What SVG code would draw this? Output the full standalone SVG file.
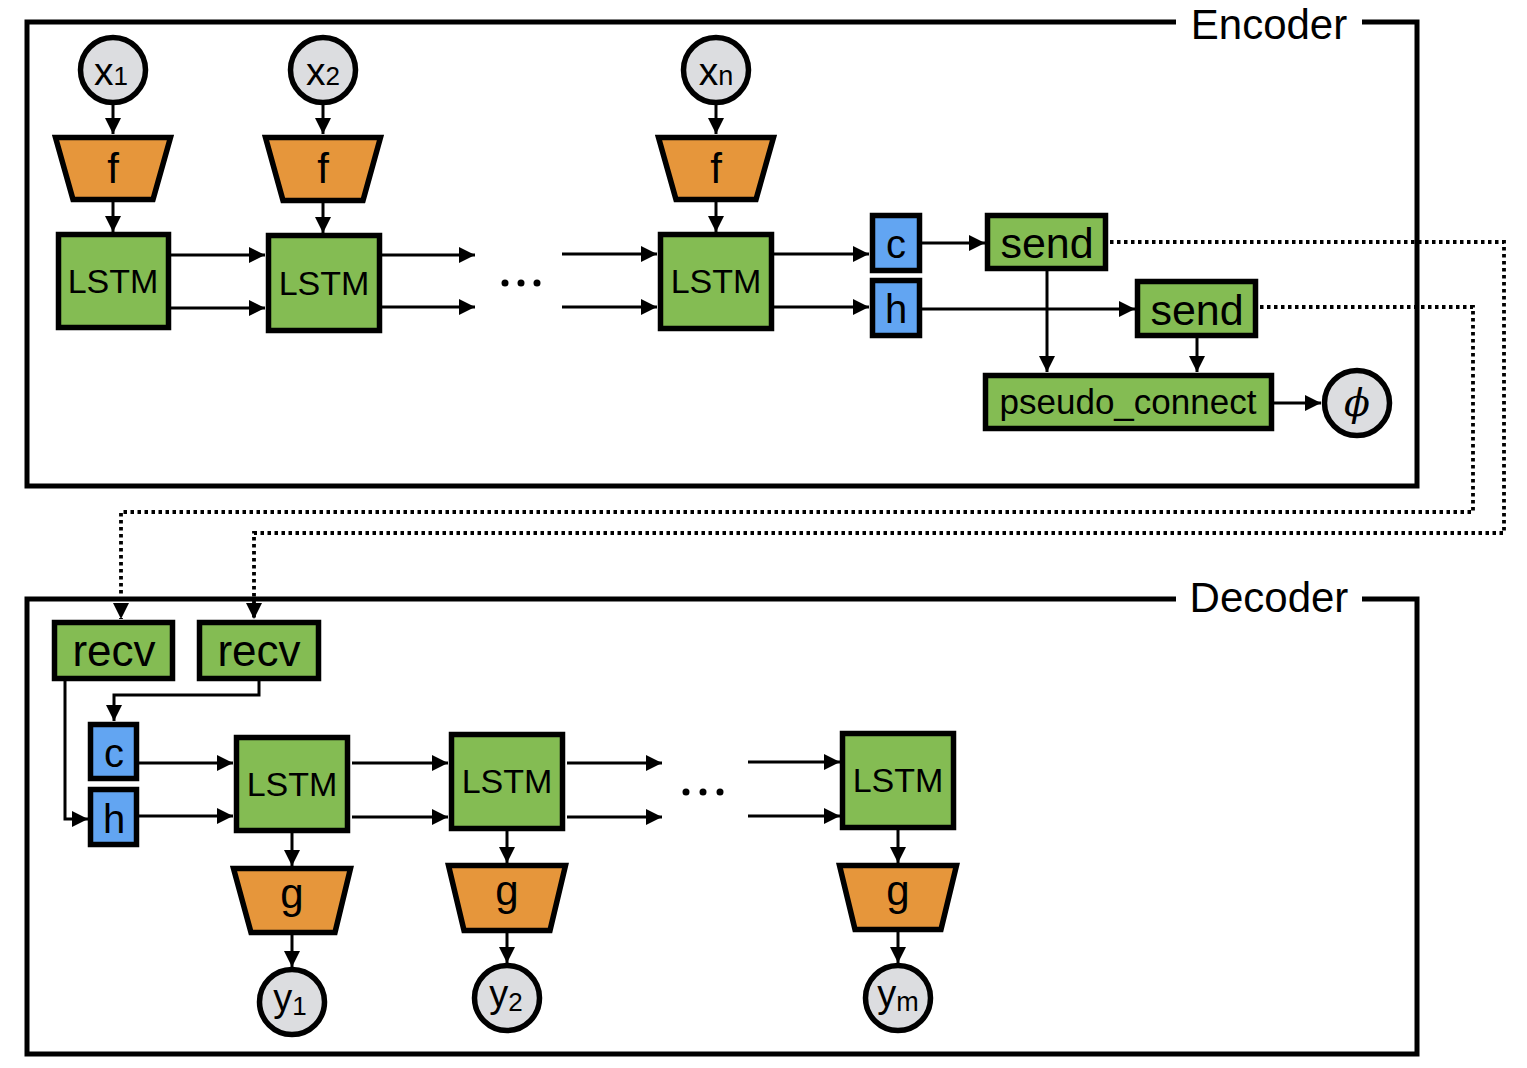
<svg xmlns="http://www.w3.org/2000/svg" width="1527" height="1068" viewBox="0 0 1527 1068">
<style>
.frame{fill:none;stroke:#000;stroke-width:5}
.node{stroke:#000;stroke-width:5.5}
.grn{fill:#84bc53}
.blu{fill:#62a5f2}
.org{fill:#e6963b}
.io{fill:#dcdde0}
.lbl{font-family:"Liberation Sans",Arial,sans-serif;fill:#000;text-anchor:middle}
.conn{fill:none;stroke:#000;stroke-width:3}
.dot{stroke-dasharray:3.5 3.5;stroke-width:3.8}
.ell{fill:#000}
</style>
<defs>
<marker id="ah" markerUnits="userSpaceOnUse" markerWidth="16" markerHeight="16" viewBox="0 0 16 16" refX="16" refY="8" orient="auto">
<path d="M0,0 L16,8 L0,16 z" fill="#000"/>
</marker>
</defs>
<rect width="1527" height="1068" fill="#fff"/>

<g id="encoder-frame">
<path class="frame" d="M1176,22 H27 V486 H1417 V22 H1362"/>
<text class="lbl" x="1269" y="39" font-size="42">Encoder</text>
</g>
<g id="decoder-frame">
<path class="frame" d="M1176,599 H27 V1054 H1417 V599 H1362"/>
<text class="lbl" x="1269" y="612" font-size="42">Decoder</text>
</g>

<g id="connectors">
<path class="conn" marker-end="url(#ah)" d="M113,104 V134"/>
<path class="conn" marker-end="url(#ah)" d="M113,202 V232"/>
<path class="conn" marker-end="url(#ah)" d="M323,104 V134"/>
<path class="conn" marker-end="url(#ah)" d="M323,203 V233"/>
<path class="conn" marker-end="url(#ah)" d="M716,104 V134"/>
<path class="conn" marker-end="url(#ah)" d="M716,202 V232"/>
<path class="conn" marker-end="url(#ah)" d="M171,255 H265"/>
<path class="conn" marker-end="url(#ah)" d="M171,308 H265"/>
<path class="conn" marker-end="url(#ah)" d="M382,255 H475"/>
<path class="conn" marker-end="url(#ah)" d="M382,307 H475"/>
<path class="conn" marker-end="url(#ah)" d="M562,254 H657"/>
<path class="conn" marker-end="url(#ah)" d="M562,307 H657"/>
<path class="conn" marker-end="url(#ah)" d="M774,254 H869"/>
<path class="conn" marker-end="url(#ah)" d="M774,307 H869"/>
<path class="conn" marker-end="url(#ah)" d="M922,243 H985"/>
<path class="conn" marker-end="url(#ah)" d="M922,309 H1135"/>
<path class="conn" marker-end="url(#ah)" d="M1047,271 V372"/>
<path class="conn" marker-end="url(#ah)" d="M1197,338 V372"/>
<path class="conn" marker-end="url(#ah)" d="M1274,403 H1321"/>
<path class="conn dot" marker-end="url(#ah)" d="M1110,242 H1504 V533 H254 V619"/>
<path class="conn dot" marker-end="url(#ah)" d="M1260,307 H1473 V512 H121 V619"/>
<path class="conn" marker-end="url(#ah)" d="M259,681 V695 H114 V721"/>
<path class="conn" marker-end="url(#ah)" d="M65,681 V819 H88"/>
<path class="conn" marker-end="url(#ah)" d="M139,763 H233"/>
<path class="conn" marker-end="url(#ah)" d="M139,816 H233"/>
<path class="conn" marker-end="url(#ah)" d="M352,763 H448"/>
<path class="conn" marker-end="url(#ah)" d="M352,817 H448"/>
<path class="conn" marker-end="url(#ah)" d="M567,763 H662"/>
<path class="conn" marker-end="url(#ah)" d="M567,817 H662"/>
<path class="conn" marker-end="url(#ah)" d="M748,762 H840"/>
<path class="conn" marker-end="url(#ah)" d="M748,816 H840"/>
<path class="conn" marker-end="url(#ah)" d="M292,833 V866"/>
<path class="conn" marker-end="url(#ah)" d="M507,831 V863"/>
<path class="conn" marker-end="url(#ah)" d="M898,830 V863"/>
<path class="conn" marker-end="url(#ah)" d="M292,935 V967"/>
<path class="conn" marker-end="url(#ah)" d="M507,933 V963"/>
<path class="conn" marker-end="url(#ah)" d="M898,932 V963"/>
</g>

<g id="x1"><circle class="node io" cx="113" cy="70" r="32.5"/><text class="lbl" x="111" y="85" font-size="39">x<tspan font-size="26">1</tspan></text></g>
<g id="x2"><circle class="node io" cx="323" cy="70" r="32.5"/><text class="lbl" x="323" y="85" font-size="39">x<tspan font-size="26">2</tspan></text></g>
<g id="xn"><circle class="node io" cx="716" cy="70" r="32.5"/><text class="lbl" x="716" y="85" font-size="39">x<tspan font-size="27">n</tspan></text></g>

<g id="f1"><polygon class="node org" points="55.5,137.5 170.5,137.5 153,199.5 73,199.5"/><text class="lbl" x="113" y="183" font-size="42">f</text></g>
<g id="f2"><polygon class="node org" points="265.5,137.5 380.5,137.5 363,200.5 283,200.5"/><text class="lbl" x="323" y="183" font-size="42">f</text></g>
<g id="fn"><polygon class="node org" points="658.5,137.5 773.5,137.5 756,199.5 676,199.5"/><text class="lbl" x="716" y="183" font-size="42">f</text></g>

<g id="enc-lstm1"><rect class="node grn" x="58.5" y="234.5" width="110" height="93"/><text class="lbl" x="113" y="293" font-size="34">LSTM</text></g>
<g id="enc-lstm2"><rect class="node grn" x="268.5" y="235.5" width="111" height="95"/><text class="lbl" x="324" y="295" font-size="34">LSTM</text></g>
<g id="enc-lstmn"><rect class="node grn" x="660.5" y="234.5" width="111" height="94"/><text class="lbl" x="716" y="293" font-size="34">LSTM</text></g>
<g id="enc-dots"><circle class="ell" cx="505" cy="283" r="3.5"/><circle class="ell" cx="521" cy="283" r="3.5"/><circle class="ell" cx="537" cy="283" r="3.5"/></g>

<g id="enc-c"><rect class="node blu" x="872.5" y="215.5" width="47" height="55"/><text class="lbl" x="896" y="258" font-size="40">c</text></g>
<g id="enc-h"><rect class="node blu" x="872.5" y="280.5" width="47" height="55"/><text class="lbl" x="896" y="323" font-size="40">h</text></g>

<g id="send1"><rect class="node grn" x="987.5" y="215.5" width="118" height="53"/><text class="lbl" x="1047" y="258" font-size="43">send</text></g>
<g id="send2"><rect class="node grn" x="1137.5" y="281.5" width="118" height="54"/><text class="lbl" x="1197" y="325" font-size="43">send</text></g>
<g id="pseudo_connect"><rect class="node grn" x="985.5" y="375.5" width="286" height="53"/><text class="lbl" x="1128" y="414" font-size="35">pseudo_connect</text></g>
<g id="phi"><circle class="node io" cx="1357" cy="403" r="32.5"/><text x="1357" y="416" font-size="38" font-style="italic" text-anchor="middle" font-family="'DejaVu Serif','Liberation Serif',serif">ϕ</text></g>

<g id="recv1"><rect class="node grn" x="54.5" y="622.5" width="118" height="56"/><text class="lbl" x="114" y="666" font-size="44">recv</text></g>
<g id="recv2"><rect class="node grn" x="199.5" y="622.5" width="119" height="56"/><text class="lbl" x="259" y="666" font-size="44">recv</text></g>

<g id="dec-c"><rect class="node blu" x="90.5" y="724.5" width="46" height="54"/><text class="lbl" x="114" y="767" font-size="40">c</text></g>
<g id="dec-h"><rect class="node blu" x="90.5" y="789.5" width="46" height="55"/><text class="lbl" x="114" y="833" font-size="40">h</text></g>

<g id="dec-lstm1"><rect class="node grn" x="236.5" y="737.5" width="111" height="93"/><text class="lbl" x="292" y="796" font-size="34">LSTM</text></g>
<g id="dec-lstm2"><rect class="node grn" x="451.5" y="734.5" width="111" height="94"/><text class="lbl" x="507" y="793" font-size="34">LSTM</text></g>
<g id="dec-lstmm"><rect class="node grn" x="842.5" y="733.5" width="111" height="94"/><text class="lbl" x="898" y="792" font-size="34">LSTM</text></g>
<g id="dec-dots"><circle class="ell" cx="686" cy="792" r="3.5"/><circle class="ell" cx="703" cy="792" r="3.5"/><circle class="ell" cx="720" cy="792" r="3.5"/></g>

<g id="g1"><polygon class="node org" points="233.5,868.5 350.5,868.5 335,932.5 251,932.5"/><text class="lbl" x="292" y="908" font-size="42">g</text></g>
<g id="g2"><polygon class="node org" points="448.5,865.5 565.5,865.5 550,930.5 464,930.5"/><text class="lbl" x="507" y="905" font-size="42">g</text></g>
<g id="g3"><polygon class="node org" points="839.5,865.5 956.5,865.5 941,929.5 855,929.5"/><text class="lbl" x="898" y="905" font-size="42">g</text></g>

<g id="y1"><circle class="node io" cx="292" cy="1002" r="32.5"/><text class="lbl" x="290" y="1011" font-size="38">y<tspan font-size="26" dy="4">1</tspan></text></g>
<g id="y2"><circle class="node io" cx="507" cy="998" r="32.5"/><text class="lbl" x="506" y="1007" font-size="38">y<tspan font-size="26" dy="4">2</tspan></text></g>
<g id="ym"><circle class="node io" cx="898" cy="998" r="32.5"/><text class="lbl" x="898" y="1007" font-size="38">y<tspan font-size="27" dy="4">m</tspan></text></g>
</svg>
